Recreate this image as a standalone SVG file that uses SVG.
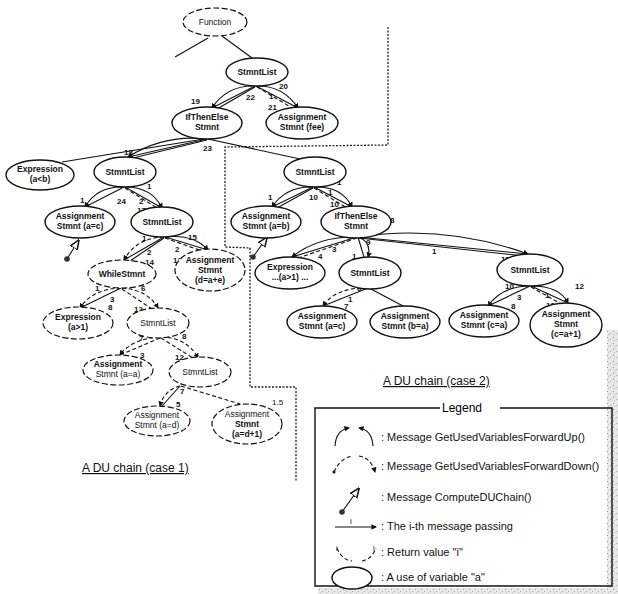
<svg xmlns="http://www.w3.org/2000/svg" width="618" height="594" viewBox="0 0 618 594">
<style>
.n ellipse{fill:#fff;stroke:#111;stroke-width:1.4}
.n.d ellipse{stroke-dasharray:6 2.5;stroke-width:1.2}
.n text{font-family:"Liberation Sans",Arial,sans-serif;font-size:8.5px;font-weight:bold;fill:#111;text-anchor:middle}
.e path,.e line{fill:none;stroke:#111;stroke-width:1.1}
.e .dd{stroke-dasharray:4 2.5}
.lb{font-family:"Liberation Sans",Arial,sans-serif;font-size:8px;font-weight:bold;fill:#111}
.t{font-family:"Liberation Sans",Arial,sans-serif;font-size:12px;fill:#111;text-decoration:underline}
.lg{font-family:"Liberation Sans",Arial,sans-serif;font-size:11px;fill:#111}
.bd{fill:none;stroke:#222;stroke-width:1.3;stroke-dasharray:2 1.5}
</style>
<defs>
<marker id="ah" viewBox="0 0 6 6" refX="5" refY="3" markerWidth="5" markerHeight="5" orient="auto"><path d="M0,0 L6,3 L0,6 z" fill="#111"/></marker>
<marker id="big" viewBox="0 0 10 10" refX="6" refY="5" markerWidth="9" markerHeight="9" orient="auto"><path d="M0,1 L10,5 L0,9 z" fill="#fff" stroke="#111" stroke-width="1.5"/></marker>
<pattern id="noise" width="6" height="6" patternUnits="userSpaceOnUse"><rect width="6" height="6" fill="#e8e8e8"/><rect x="1" y="1" width="1" height="1" fill="#999"/><rect x="4" y="3" width="1" height="1" fill="#aaa"/><rect x="2" y="4" width="1" height="1" fill="#bbb"/></pattern>
</defs>
<rect width="618" height="594" fill="#fff"/>
<rect x="607" y="330" width="11" height="264" fill="url(#noise)"/>
<rect x="318" y="588" width="300" height="6" fill="url(#noise)"/>

<g id="boundary">
<path class="bd" d="M388,27 L388,145 L225,147 L225,247 L250,248 L250,387 L296,387 L296,482"/>
<text class="lb" x="272" y="405" style="font-weight:normal">1.5</text>
</g>

<g id="connectors" class="e">
<line x1="222" y1="36" x2="252" y2="58"/>
<line x1="208" y1="38" x2="175" y2="57"/>
<path d="M255,86 Q227,85 212,108" marker-end="url(#ah)"/>
<line x1="255" y1="86" x2="212" y2="108"/>
<line x1="255" y1="87" x2="217" y2="109"/>
<path d="M256,86 Q283,85 298,108" marker-end="url(#ah)"/>
<line x1="256" y1="86" x2="298" y2="108"/>
<path class="dd" d="M257,87 L294,109"/>
<path d="M207,139 Q164,134 128,157" marker-end="url(#ah)"/>
<line x1="207" y1="139" x2="128" y2="157"/>
<line x1="207" y1="140" x2="133" y2="158"/>
<line x1="204" y1="139" x2="62" y2="162"/>
<line x1="208" y1="139" x2="300" y2="159"/>
<path d="M124,187 Q97,186 85,207" marker-end="url(#ah)"/>
<line x1="124" y1="187" x2="85" y2="207"/>
<path d="M125,187 Q152,187 162,208" marker-end="url(#ah)"/>
<line x1="125" y1="187" x2="162" y2="208"/>
<path class="dd" d="M125,188 L157,208"/>
<path class="dd" d="M164,237 Q136,238 124,260" marker-end="url(#ah)"/>
<line x1="164" y1="237" x2="124" y2="260"/>
<line x1="164" y1="238" x2="130" y2="261"/>
<path d="M165,237 Q194,234 208,250" marker-end="url(#ah)"/>
<line x1="165" y1="237" x2="208" y2="250"/>
<path class="dd" d="M165,238 L202,251"/>
<path class="dd" d="M121,288 Q92,289 80,308" marker-end="url(#ah)"/>
<line x1="121" y1="288" x2="80" y2="308"/>
<path class="dd" d="M122,288 Q148,290 158,308" marker-end="url(#ah)"/>
<path class="dd" d="M122,289 L152,309"/>
<path class="dd" d="M160,337 Q131,339 120,355" marker-end="url(#ah)"/>
<path class="dd" d="M160,338 L120,355"/>
<path class="dd" d="M161,337 Q188,338 198,358" marker-end="url(#ah)"/>
<path class="dd" d="M161,338 L193,358"/>
<path class="dd" d="M180,386 Q164,390 160,406" marker-end="url(#ah)"/>
<line x1="180" y1="386" x2="162" y2="406"/>
<path class="dd" d="M181,386 L240,404"/>
<path d="M313,187 Q286,186 272,207" marker-end="url(#ah)"/>
<line x1="313" y1="187" x2="272" y2="207"/>
<line x1="313" y1="188" x2="277" y2="208"/>
<path d="M314,187 Q342,186 352,207" marker-end="url(#ah)"/>
<line x1="314" y1="187" x2="352" y2="207"/>
<path class="dd" d="M314,188 L347,208"/>
<path d="M357,237 Q318,236 292,257" marker-end="url(#ah)"/>
<line x1="357" y1="237" x2="292" y2="257"/>
<path class="dd" d="M357,238 L298,258"/>
<path d="M358,237 Q372,242 368,257" marker-end="url(#ah)"/>
<line x1="358" y1="237" x2="364" y2="257"/>
<path d="M358,237 Q445,224 528,254" marker-end="url(#ah)"/>
<line x1="358" y1="237" x2="528" y2="254"/>
<line x1="359" y1="238" x2="524" y2="256"/>
<path class="dd" d="M368,288 Q336,287 323,306" marker-end="url(#ah)"/>
<line x1="368" y1="288" x2="323" y2="306"/>
<line x1="369" y1="288" x2="403" y2="306"/>
<path d="M530,286 Q502,286 488,306" marker-end="url(#ah)"/>
<line x1="530" y1="286" x2="488" y2="306"/>
<path d="M531,286 Q560,286 568,303" marker-end="url(#ah)"/>
<line x1="531" y1="286" x2="568" y2="303"/>
<path class="dd" d="M531,287 L563,305"/>
<line x1="67" y1="259" x2="77" y2="243" marker-end="url(#big)" stroke-width="1.5"/>
<circle cx="67" cy="259" r="2.8" fill="#333"/>
<line x1="253" y1="257" x2="265" y2="240" marker-end="url(#big)" stroke-width="1.5"/>
<circle cx="253" cy="257" r="2.8" fill="#333"/>
</g>

<g id="labels">
<text class="lb" x="191" y="104">19</text>
<text class="lb" x="246" y="100">22</text>
<text class="lb" x="279" y="89">20</text>
<text class="lb" x="269" y="99">1</text>
<text class="lb" x="268" y="110">21</text>
<text class="lb" x="124" y="155">18</text>
<text class="lb" x="203" y="151">23</text>
<text class="lb" x="80" y="203">1</text>
<text class="lb" x="117" y="204">24</text>
<text class="lb" x="147" y="189">1</text>
<text class="lb" x="139" y="204">2</text>
<text class="lb" x="137" y="213">17</text>
<text class="lb" x="142" y="241">1</text>
<text class="lb" x="188" y="240">15</text>
<text class="lb" x="147" y="255">2</text>
<text class="lb" x="145" y="265">14</text>
<text class="lb" x="175" y="252">2</text>
<text class="lb" x="173" y="263">12</text>
<text class="lb" x="95" y="291">1</text>
<text class="lb" x="110" y="302">3</text>
<text class="lb" x="108" y="310">8</text>
<text class="lb" x="141" y="291">6</text>
<text class="lb" x="134" y="312">12</text>
<text class="lb" x="139" y="341">7</text>
<text class="lb" x="182" y="339">8</text>
<text class="lb" x="140" y="358">3</text>
<text class="lb" x="175" y="360">12</text>
<text class="lb" x="180" y="394">7</text>
<text class="lb" x="176" y="407">5</text>
<text class="lb" x="268" y="200">1</text>
<text class="lb" x="309" y="200">10</text>
<text class="lb" x="328" y="195">1</text>
<text class="lb" x="330" y="207">10</text>
<text class="lb" x="337" y="185">1</text>
<text class="lb" x="326" y="225">3</text>
<text class="lb" x="390" y="223">8</text>
<text class="lb" x="318" y="259">4</text>
<text class="lb" x="332" y="252">3</text>
<text class="lb" x="352" y="259">1</text>
<text class="lb" x="366" y="245">9</text>
<text class="lb" x="432" y="254">1</text>
<text class="lb" x="501" y="262">11</text>
<text class="lb" x="505" y="289">10</text>
<text class="lb" x="575" y="289">12</text>
<text class="lb" x="517" y="300">3</text>
<text class="lb" x="511" y="309">8</text>
<text class="lb" x="545" y="298">1</text>
<text class="lb" x="546" y="308">10</text>
<text class="lb" x="357" y="291">6</text>
<text class="lb" x="348" y="302">1</text>
<text class="lb" x="344" y="309">7</text>
</g>

<g id="n-function" class="n d"><ellipse cx="215" cy="22" rx="32" ry="14"/><text x="215" y="25" style="font-weight:normal">Function</text></g>
<g id="n-stmntlist-top" class="n"><ellipse cx="257" cy="72" rx="31" ry="14"/><text x="257" y="75">StmntList</text></g>
<g id="n-ifthenelse-1" class="n"><ellipse cx="207" cy="123" rx="35" ry="16"/><text x="207" y="120">IfThenElse</text><text x="207" y="130">Stmnt</text></g>
<g id="n-assign-fee" class="n"><ellipse cx="302" cy="123" rx="36" ry="16"/><text x="302" y="120">Assignment</text><text x="302" y="130">Stmnt (fee)</text></g>
<g id="n-expr-aleb" class="n"><ellipse cx="40" cy="175" rx="34" ry="15"/><text x="40" y="172">Expression</text><text x="40" y="182">(a&lt;b)</text></g>
<g id="n-stmntlist-1a" class="n"><ellipse cx="125" cy="172" rx="31" ry="15"/><text x="125" y="175">StmntList</text></g>
<g id="n-assign-ac" class="n"><ellipse cx="80" cy="222" rx="35" ry="16"/><text x="80" y="219">Assignment</text><text x="80" y="229">Stmnt (a=c)</text></g>
<g id="n-stmntlist-1b" class="n"><ellipse cx="162" cy="222" rx="31" ry="15"/><text x="162" y="225">StmntList</text></g>
<g id="n-while" class="n d"><ellipse cx="122" cy="274" rx="34" ry="14"/><text x="122" y="277">WhileStmnt</text></g>
<g id="n-assign-dae" class="n d"><ellipse cx="210" cy="270" rx="35" ry="21"/><text x="210" y="263">Assignment</text><text x="210" y="273">Stmnt</text><text x="210" y="283">(d=a+e)</text></g>
<g id="n-expr-a1" class="n d"><ellipse cx="78" cy="323" rx="35" ry="16"/><text x="78" y="320">Expression</text><text x="78" y="330">(a&gt;1)</text></g>
<g id="n-stmntlist-1c" class="n d"><ellipse cx="158" cy="323" rx="31" ry="15"/><text x="158" y="326" style="font-weight:normal">StmntList</text></g>
<g id="n-assign-aa" class="n d"><ellipse cx="118" cy="370" rx="35" ry="15"/><text x="118" y="367">Assignment</text><text x="118" y="377" style="font-weight:normal">Stmnt (a=a)</text></g>
<g id="n-stmntlist-1d" class="n d"><ellipse cx="200" cy="372" rx="31" ry="15"/><text x="200" y="375" style="font-weight:normal">StmntList</text></g>
<g id="n-assign-ad" class="n d"><ellipse cx="157" cy="421" rx="33" ry="15"/><text x="157" y="418" style="font-weight:normal">Assignment</text><text x="157" y="428" style="font-weight:normal">Stmnt (a=d)</text></g>
<g id="n-assign-ad1" class="n d"><ellipse cx="247" cy="424" rx="35" ry="20"/><text x="247" y="417" style="font-weight:normal">Assignment</text><text x="247" y="427">Stmnt</text><text x="247" y="437">(a=d+1)</text></g>

<g id="n-stmntlist-2a" class="n"><ellipse cx="315" cy="172" rx="31" ry="15"/><text x="315" y="175">StmntList</text></g>
<g id="n-assign-ab" class="n"><ellipse cx="266" cy="222" rx="35" ry="16"/><text x="266" y="219">Assignment</text><text x="266" y="229">Stmnt (a=b)</text></g>
<g id="n-ifthenelse-2" class="n"><ellipse cx="356" cy="222" rx="35" ry="16"/><text x="356" y="219">IfThenElse</text><text x="356" y="229">Stmnt</text></g>
<g id="n-expr-2" class="n"><ellipse cx="290" cy="273" rx="35" ry="16"/><text x="290" y="270">Expression</text><text x="290" y="280">...(a&gt;1) ...</text></g>
<g id="n-stmntlist-2b" class="n"><ellipse cx="370" cy="273" rx="31" ry="16"/><text x="370" y="276">StmntList</text></g>
<g id="n-stmntlist-2c" class="n"><ellipse cx="530" cy="270" rx="33" ry="16"/><text x="530" y="273">StmntList</text></g>
<g id="n-assign-ac2" class="n"><ellipse cx="322" cy="322" rx="35" ry="16"/><text x="322" y="319">Assignment</text><text x="322" y="329">Stmnt (a=c)</text></g>
<g id="n-assign-ba" class="n"><ellipse cx="405" cy="322" rx="35" ry="16"/><text x="405" y="319">Assignment</text><text x="405" y="329">Stmnt (b=a)</text></g>
<g id="n-assign-ca" class="n"><ellipse cx="484" cy="321" rx="35" ry="16"/><text x="484" y="318">Assignment</text><text x="484" y="328">Stmnt (c=a)</text></g>
<g id="n-assign-ca1" class="n"><ellipse cx="566" cy="325" rx="36" ry="22"/><text x="566" y="317">Assignment</text><text x="566" y="327">Stmnt</text><text x="566" y="337">(c=a+1)</text></g>

<text class="t" x="82" y="472">A DU chain (case 1)</text>
<text class="t" x="383" y="385">A DU chain (case 2)</text>

<g id="legend">
<path d="M440,408 L315,408 L315,586 L612,586 L612,408 L500,408" fill="none" stroke="#111" stroke-width="1.4"/>
<text x="462" y="412" style="font-family:'Liberation Sans',Arial,sans-serif;font-size:12px;text-anchor:middle">Legend</text>
<g class="e">
<path d="M335,446 Q336,430 349,428" marker-end="url(#ah)"/>
<path d="M373,446 Q372,430 359,428" marker-end="url(#ah)"/>
<path class="dd" d="M334,472 Q340,458 353,456"/>
<path class="dd" d="M359,456 Q371,458 375,472" marker-end="url(#ah)"/>
<circle cx="334" cy="472" r="1.5" fill="#111"/>
<line x1="342" y1="512" x2="357" y2="491" marker-end="url(#big)" stroke-width="1.5"/>
<circle cx="342" cy="512" r="2.8" fill="#333"/>
<line x1="335" y1="527" x2="376" y2="527" marker-end="url(#ah)"/>
<path class="dd" d="M337,548 Q342,560 352,561"/>
<path class="dd" d="M362,561 Q372,559 376,548"/>
</g>
<text class="lb" x="350" y="524" style="font-weight:normal">i</text>
<text class="lb" x="336" y="551" style="font-weight:normal">i</text>
<text class="lb" x="373" y="551" style="font-weight:normal">i</text>
<ellipse cx="352" cy="578" rx="20" ry="11" fill="#fff" stroke="#111" stroke-width="1.4"/>
<text class="lg" x="381" y="441">: Message GetUsedVariablesForwardUp()</text>
<text class="lg" x="381" y="470">: Message GetUsedVariablesForwardDown()</text>
<text class="lg" x="381" y="501">: Message ComputeDUChain()</text>
<text class="lg" x="381" y="530">: The i-th message passing</text>
<text class="lg" x="381" y="556">: Return value "i"</text>
<text class="lg" x="381" y="581">: A use of variable "a"</text>
</g>
</svg>
